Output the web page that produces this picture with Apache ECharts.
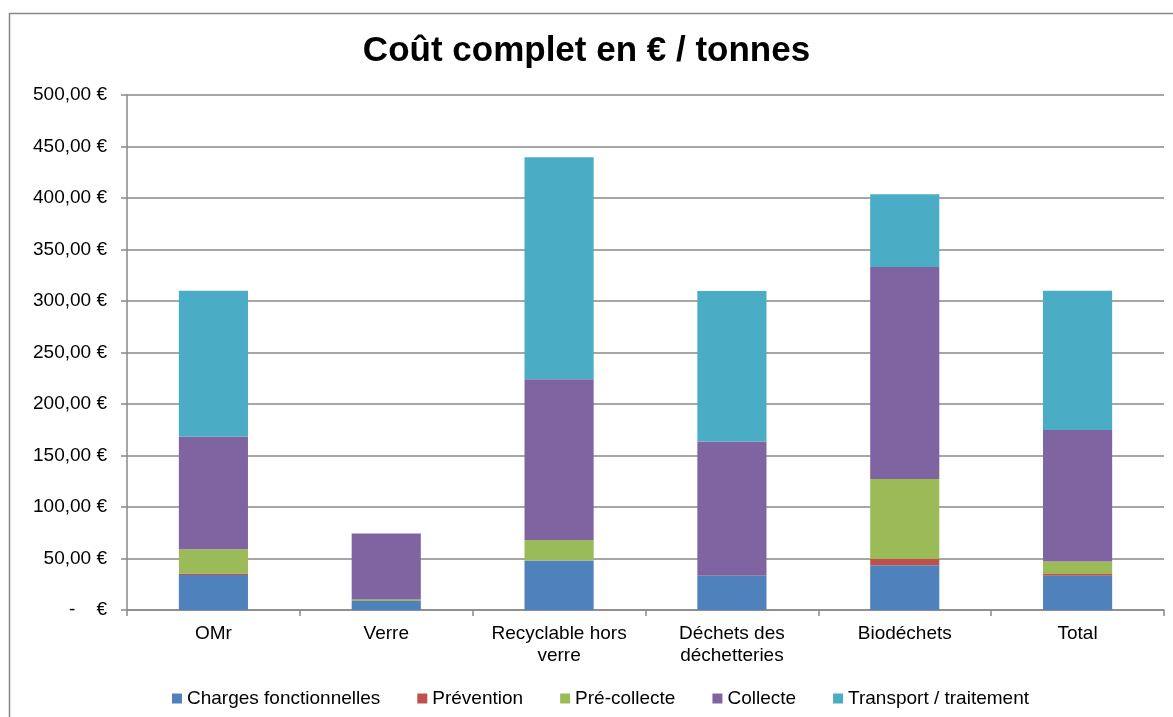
<!DOCTYPE html>
<html>
<head>
<meta charset="utf-8">
<script src="https://cdn.jsdelivr.net/npm/echarts@6/dist/echarts.min.js"></script>
<style>
html,body{margin:0;padding:0;background:#fff;}
#chart{width:1173px;height:717px;}
</style>
</head>
<body>
<div id="chart"></div>
<script>
const categories = ['OMr', 'Verre', 'Recyclable hors\nverre', 'Déchets des\ndéchetteries', 'Biodéchets', 'Total'];
const seriesNames = ['Charges fonctionnelles', 'Prévention', 'Pré-collecte', 'Collecte', 'Transport / traitement'];
const chargesFonctionnelles = [34.0, 8.7, 48.0, 33.7, 43.4, 33.3];
const prevention = [1.5, 0.0, 0.0, 0.4, 6.1, 1.7];
const preCollecte = [23.5, 1.5, 20.0, 0.0, 77.7, 12.0];
const collecte = [109.3, 64.0, 156.0, 129.5, 205.8, 127.8];
const transportTraitement = [141.7, 0.0, 215.5, 146.1, 70.6, 135.2];
const colors = ['#4F81BD', '#C0504D', '#9BBB59', '#8064A2', '#4BACC6'];
const yTicks = [0, 50, 100, 150, 200, 250, 300, 350, 400, 450, 500];

const dataSets = [chargesFonctionnelles, prevention, preCollecte, collecte, transportTraitement];
const chart = echarts.init(document.getElementById('chart'));
const font = '"Liberation Sans", Arial, sans-serif';

chart.setOption({
  animation: false,
  backgroundColor: '#fff',
  graphic: [{
    type: 'rect',
    shape: { x: 9.5, y: 13.5, width: 1200, height: 750 },
    style: { fill: 'none', stroke: '#878787', lineWidth: 1.5 },
    silent: true, z: 100
  }],
  title: {
    text: 'Coût complet en € / tonnes',
    left: 'center',
    top: 29,
    textStyle: { fontFamily: font, fontSize: 35, fontWeight: 'bold', color: '#000' }
  },
  legend: {
    bottom: 4,
    left: 167,
    itemWidth: 10,
    itemHeight: 10,
    itemGap: 37,
    icon: 'rect',
    textStyle: { fontFamily: font, fontSize: 19, color: '#000' },
    data: seriesNames
  },
  grid: { left: 127, right: 9, top: 95, bottom: 107, containLabel: false },
  xAxis: {
    type: 'category',
    data: categories,
    axisLine: { lineStyle: { color: '#898989', width: 1.5 } },
    axisTick: { show: true, length: 6, lineStyle: { color: '#898989', width: 1.5 } },
    axisLabel: { fontFamily: font, fontSize: 19, color: '#000', margin: 13, lineHeight: 22, interval: 0 }
  },
  yAxis: {
    type: 'value',
    min: 0, max: 500, interval: 50,
    axisLine: { show: true, lineStyle: { color: '#898989', width: 1.5 } },
    axisTick: { show: true, inside: false, length: 6, lineStyle: { color: '#898989', width: 1.5 } },
    splitLine: { lineStyle: { color: '#898989', width: 1.5 } },
    axisLabel: {
      fontFamily: font, fontSize: 19, color: '#000', margin: 20,
      formatter: function (v) {
        if (yTicks.indexOf(v) < 0) return '';
        if (v === 0) return '-    €';
        return v.toFixed(2).replace('.', ',') + ' €';
      }
    }
  },
  series: seriesNames.map(function (name, i) {
    return {
      name: name,
      type: 'bar',
      stack: 'total',
      barWidth: '40%',
      itemStyle: { color: colors[i] },
      data: dataSets[i]
    };
  })
});
</script>
</body>
</html>
